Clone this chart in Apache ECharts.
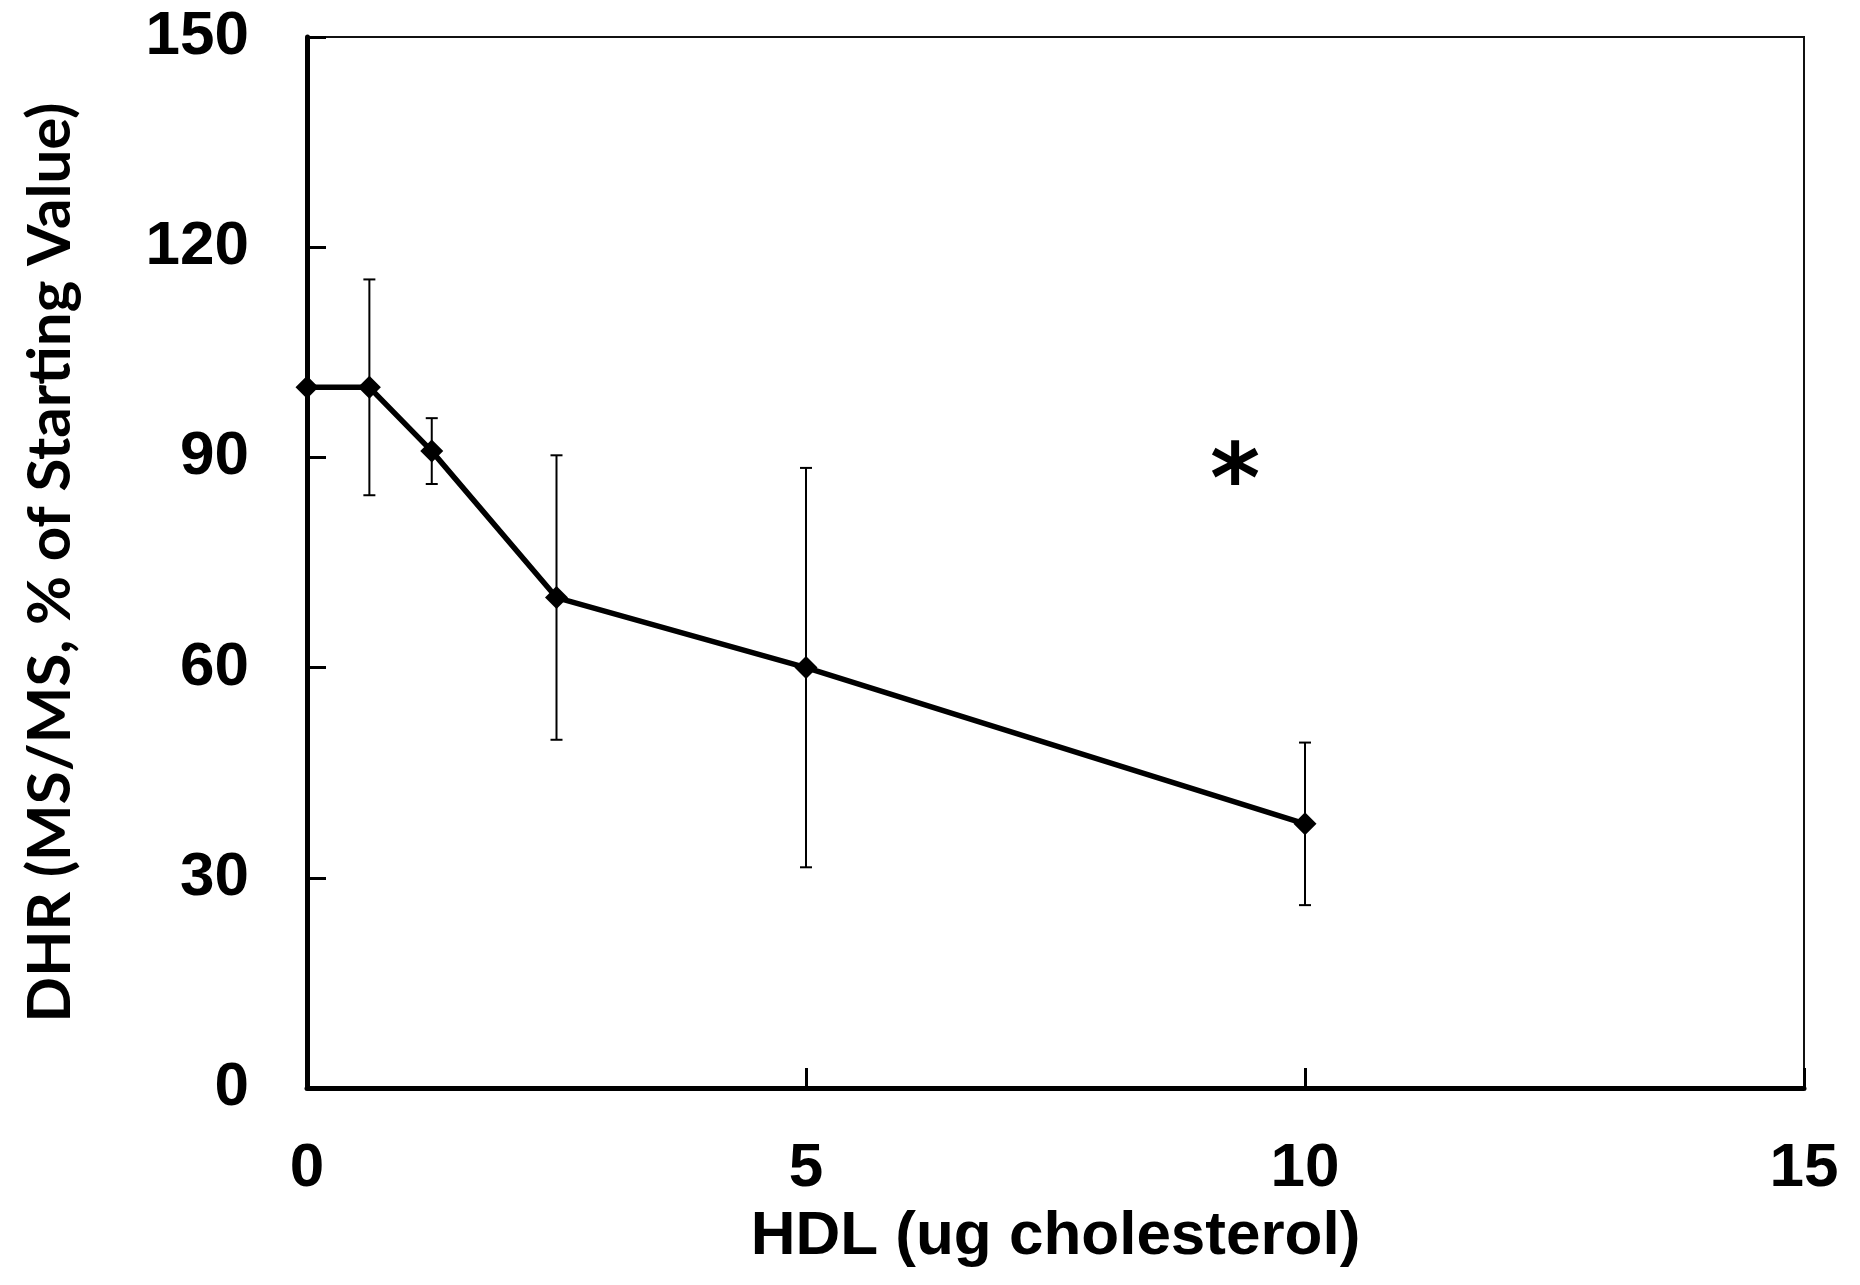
<!DOCTYPE html>
<html>
<head>
<meta charset="utf-8">
<script src="https://cdn.jsdelivr.net/npm/echarts@6/dist/echarts.min.js"></script>
<style>
  html, body { margin: 0; padding: 0; background: #ffffff; }
  #chart { width: 1860px; height: 1285px; }
</style>
</head>
<body>
<div id="chart"></div>
<script>
// HDL dose (ug cholesterol) and DHR response (% of starting value)
const hdlDose = [0, 0.625, 1.25, 2.5, 5, 10];
const dhrPercent = [100, 100, 90.9, 70, 60, 37.7];
const dhrError = [0, 15.4, 4.7, 20.3, 28.5, 11.6];

// axis ranges / tick steps
const xRange = [0, 15];
const xStep = 5;
const yRange = [0, 150];
const yStep = 30;

// significance marker position (data coordinates)
const starMark = [9.3, 89.5];

const axisFont = 'Liberation Sans, Arial, sans-serif';

const linePoints = hdlDose.map((x, i) => [x, dhrPercent[i]]);
const errorPoints = hdlDose.map((x, i) => [x, dhrPercent[i] - dhrError[i], dhrPercent[i] + dhrError[i]]);

const chart = echarts.init(document.getElementById('chart'), null, { renderer: 'canvas' });

chart.setOption({
  backgroundColor: '#ffffff',
  animation: false,
  grid: {
    left: 307, right: 56, top: 37, bottom: 197,
    show: true, borderColor: '#111111', borderWidth: 2,
    containLabel: false, outerBoundsMode: 'none'
  },
  xAxis: {
    type: 'value',
    min: xRange[0], max: xRange[1], interval: xStep,
    name: 'HDL (ug cholesterol)',
    nameLocation: 'middle',
    nameGap: 118,
    nameTextStyle: { fontFamily: axisFont, fontWeight: 'bold', fontSize: 62, color: '#000' },
    axisLine: { show: true, onZero: false, lineStyle: { color: '#000', width: 5 } },
    axisTick: { show: true, inside: true, length: 20, lineStyle: { color: '#000', width: 3 } },
    axisLabel: { margin: 50, fontFamily: axisFont, fontWeight: 'bold', fontSize: 62, color: '#000' },
    splitLine: { show: false }
  },
  yAxis: {
    type: 'value',
    min: yRange[0], max: yRange[1], interval: yStep,
    name: 'DHR (MS/MS, % of Starting Value)',
    nameLocation: 'middle',
    nameGap: 226,
    nameRotate: 90,
    nameTextStyle: { fontFamily: 'Lato, sans-serif', fontWeight: 'bold', fontSize: 60, color: '#000' },
    axisLine: { show: true, onZero: false, lineStyle: { color: '#000', width: 5 } },
    axisTick: { show: true, inside: true, length: 19, lineStyle: { color: '#000', width: 3 } },
    axisLabel: { margin: 58, fontFamily: axisFont, fontWeight: 'bold', fontSize: 62, color: '#000' },
    splitLine: { show: false }
  },
  series: [
    {
      // standard deviation whiskers
      type: 'custom',
      z: 2,
      data: errorPoints,
      renderItem: function (params, api) {
        const x = api.value(0);
        const lo = api.value(1);
        const hi = api.value(2);
        if (hi - lo <= 0) return null;
        const top = api.coord([x, hi]);
        const bot = api.coord([x, lo]);
        const cap = 6;
        const style = { stroke: '#000', lineWidth: 2 };
        return {
          type: 'group',
          children: [
            { type: 'line', shape: { x1: top[0], y1: top[1], x2: bot[0], y2: bot[1] }, style: style },
            { type: 'line', shape: { x1: top[0] - cap, y1: top[1], x2: top[0] + cap, y2: top[1] }, style: style },
            { type: 'line', shape: { x1: bot[0] - cap, y1: bot[1], x2: bot[0] + cap, y2: bot[1] }, style: style }
          ]
        };
      }
    },
    {
      type: 'line',
      z: 3,
      data: linePoints,
      symbol: 'diamond',
      symbolSize: 23,
      lineStyle: { color: '#000', width: 5.5 },
      itemStyle: { color: '#000' },
      clip: false
    },
    {
      // significance asterisk
      type: 'scatter',
      z: 4,
      data: [starMark],
      symbolSize: 0,
      itemStyle: { color: '#000', opacity: 1 },
      label: {
        show: true,
        formatter: '*',
        position: 'inside',
        offset: [0, 26],
        fontFamily: 'DejaVu Sans, sans-serif',
        fontWeight: 'bold',
        fontSize: 96,
        color: '#000',
        opacity: 1,
        textBorderWidth: 0,
        textBorderColor: 'transparent'
      }
    }
  ]
});
</script>
</body>
</html>
